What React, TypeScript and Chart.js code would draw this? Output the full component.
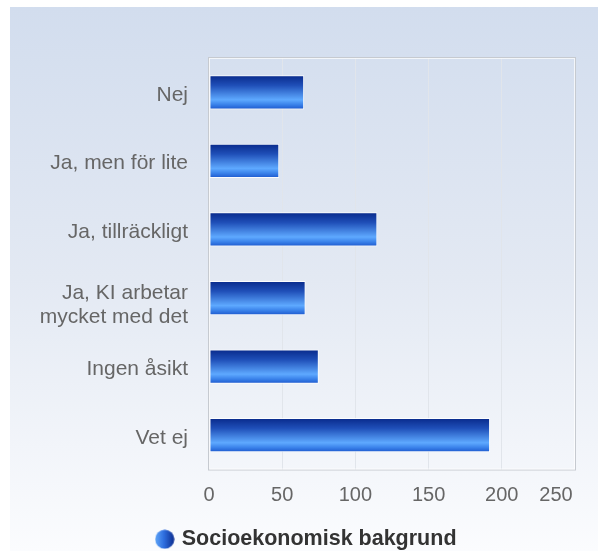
import React, { useEffect, useRef } from "react";
import { Chart, registerables } from "chart.js";

Chart.register(...registerables);

const categories: (string | string[])[] = [
  "Nej",
  "Ja, men för lite",
  "Ja, tillräckligt",
  ["Ja, KI arbetar", "mycket med det"],
  "Ingen åsikt",
  "Vet ej",
];
const seriesName = "Socioekonomisk bakgrund";
const seriesValues = [65, 48, 115, 66, 75, 192];
const xTicks = [0, 50, 100, 150, 200, 250];

const BAR_PCT = 0.5;
const FONT = "'Liberation Sans', Arial, sans-serif";

function makeLegendDot(): HTMLCanvasElement {
  const c = document.createElement("canvas");
  c.width = 20;
  c.height = 20;
  const ctx = c.getContext("2d")!;
  const g = ctx.createLinearGradient(0, 0, 20, 0);
  g.addColorStop(0, "#62a8f8");
  g.addColorStop(0.45, "#2f6fe0");
  g.addColorStop(1, "#0a2a8c");
  ctx.fillStyle = g;
  ctx.beginPath();
  ctx.arc(10, 10, 9.6, 0, Math.PI * 2);
  ctx.fill();
  return c;
}

const bgPlugin = {
  id: "panelBg",
  beforeDraw(chart: any) {
    const { ctx, width, height } = chart;
    const g = ctx.createLinearGradient(0, 0, 0, height);
    g.addColorStop(0, "#d2ddee");
    g.addColorStop(0.5, "#e3e9f3");
    g.addColorStop(1, "#fbfcfe");
    ctx.save();
    ctx.fillStyle = g;
    ctx.fillRect(0, 0, width, height);
    ctx.restore();
    // keep the last x tick label inside the plot, as in the reference
    const xs = chart.scales.x;
    if (xs && xs.getLabelItems) {
      const items = xs.getLabelItems(chart.chartArea);
      const last = items[items.length - 1];
      if (last && !last.__shifted) {
        last.options.translation[0] -= 19;
        last.__shifted = true;
      }
    }
    // multi-line category label sits a little lower in the reference
    const ys = chart.scales.y;
    if (ys && ys.getLabelItems) {
      const items = ys.getLabelItems(chart.chartArea);
      items.forEach((it: any) => {
        if (Array.isArray(it.label) && !it.__shifted) {
          it.options.translation[1] += 4.5;
          it.__shifted = true;
        }
      });
    }
  },
  beforeDatasetsDraw(chart: any) {
    const { ctx, chartArea: a } = chart;
    ctx.save();
    ctx.strokeStyle = "#c6cad0";
    ctx.lineWidth = 1;
    ctx.strokeRect(a.left - 0.5, a.top - 0.5, a.right - a.left + 1, a.bottom - a.top + 1);
    ctx.strokeStyle = "rgba(255,255,255,0.7)";
    ctx.strokeRect(a.left + 0.5, a.top + 0.5, a.right - a.left - 1, a.bottom - a.top - 1);
    ctx.restore();
  },
};

export default function App() {
  const ref = useRef<HTMLCanvasElement>(null);
  useEffect(() => {
    const dot = makeLegendDot();
    const barFill = (context: any) => {
      const chart = context.chart;
      const ys = chart.scales?.y;
      const area = chart.chartArea;
      if (!ys || !area || context.dataIndex === undefined) return "#2a5fd0";
      const center = ys.getPixelForValue(context.dataIndex);
      const half = ((area.bottom - area.top) / categories.length) * BAR_PCT / 2;
      const g = chart.ctx.createLinearGradient(0, center - half, 0, center + half);
      g.addColorStop(0, "#08298a");
      g.addColorStop(0.3, "#1f4fb8");
      g.addColorStop(0.72, "#5ea9ff");
      g.addColorStop(0.86, "#3a82ea");
      g.addColorStop(1, "#1b56cc");
      return g;
    };
    const chart = new Chart(ref.current!, {
      type: "bar",
      data: {
        labels: categories,
        datasets: [
          {
            label: seriesName,
            data: seriesValues,
            backgroundColor: barFill,
            borderColor: "rgba(255,255,255,0.85)",
            borderWidth: 1,
            borderSkipped: false,
            barPercentage: BAR_PCT,
            categoryPercentage: 1,
          },
        ],
      },
      options: {
        indexAxis: "y",
        animation: false,
        responsive: true,
        maintainAspectRatio: false,
        layout: { padding: { left: 30, top: 51, right: 23, bottom: -9 } },
        scales: {
          x: {
            min: 0,
            max: 250,
            afterBuildTicks: (scale: any) => {
              scale.ticks = xTicks.map((v) => ({ value: v }));
            },
            afterFit: (scale: any) => {
              scale.height = 49;
              scale.paddingRight = 0;
              scale.paddingLeft = 0;
            },
            grid: { color: "#e1e5eb", lineWidth: 1, drawTicks: false },
            border: { display: false },
            ticks: {
              padding: 14,
              color: "#666",
              font: { family: FONT, size: 20 },
            },
          },
          y: {
            afterFit: (scale: any) => {
              scale.width = 169;
            },
            grid: { display: false, drawTicks: false },
            border: { display: false },
            ticks: {
              padding: 21,
              labelOffset: 2.5,
              color: "#666",
              font: { family: FONT, size: 21, lineHeight: 1.15 },
            },
          },
        },
        plugins: {
          tooltip: { enabled: false },
          legend: {
            position: "bottom",
            labels: {
              usePointStyle: true,
              boxWidth: 12.5,
              padding: 10,
              color: "#333",
              font: { family: FONT, size: 21.5, weight: "bold" },
              generateLabels: (c: any) => {
                const items = Chart.defaults.plugins.legend.labels.generateLabels(c);
                return items.map((it: any) => ({ ...it, pointStyle: dot, fontColor: "#333" }));
              },
            },
          },
        },
      } as any,
      plugins: [bgPlugin],
    });
    return () => chart.destroy();
  }, []);
  return (
    <div style={{ position: "fixed", left: 10, top: 7, width: 588, height: 544 }}>
      <canvas ref={ref} />
    </div>
  );
}
